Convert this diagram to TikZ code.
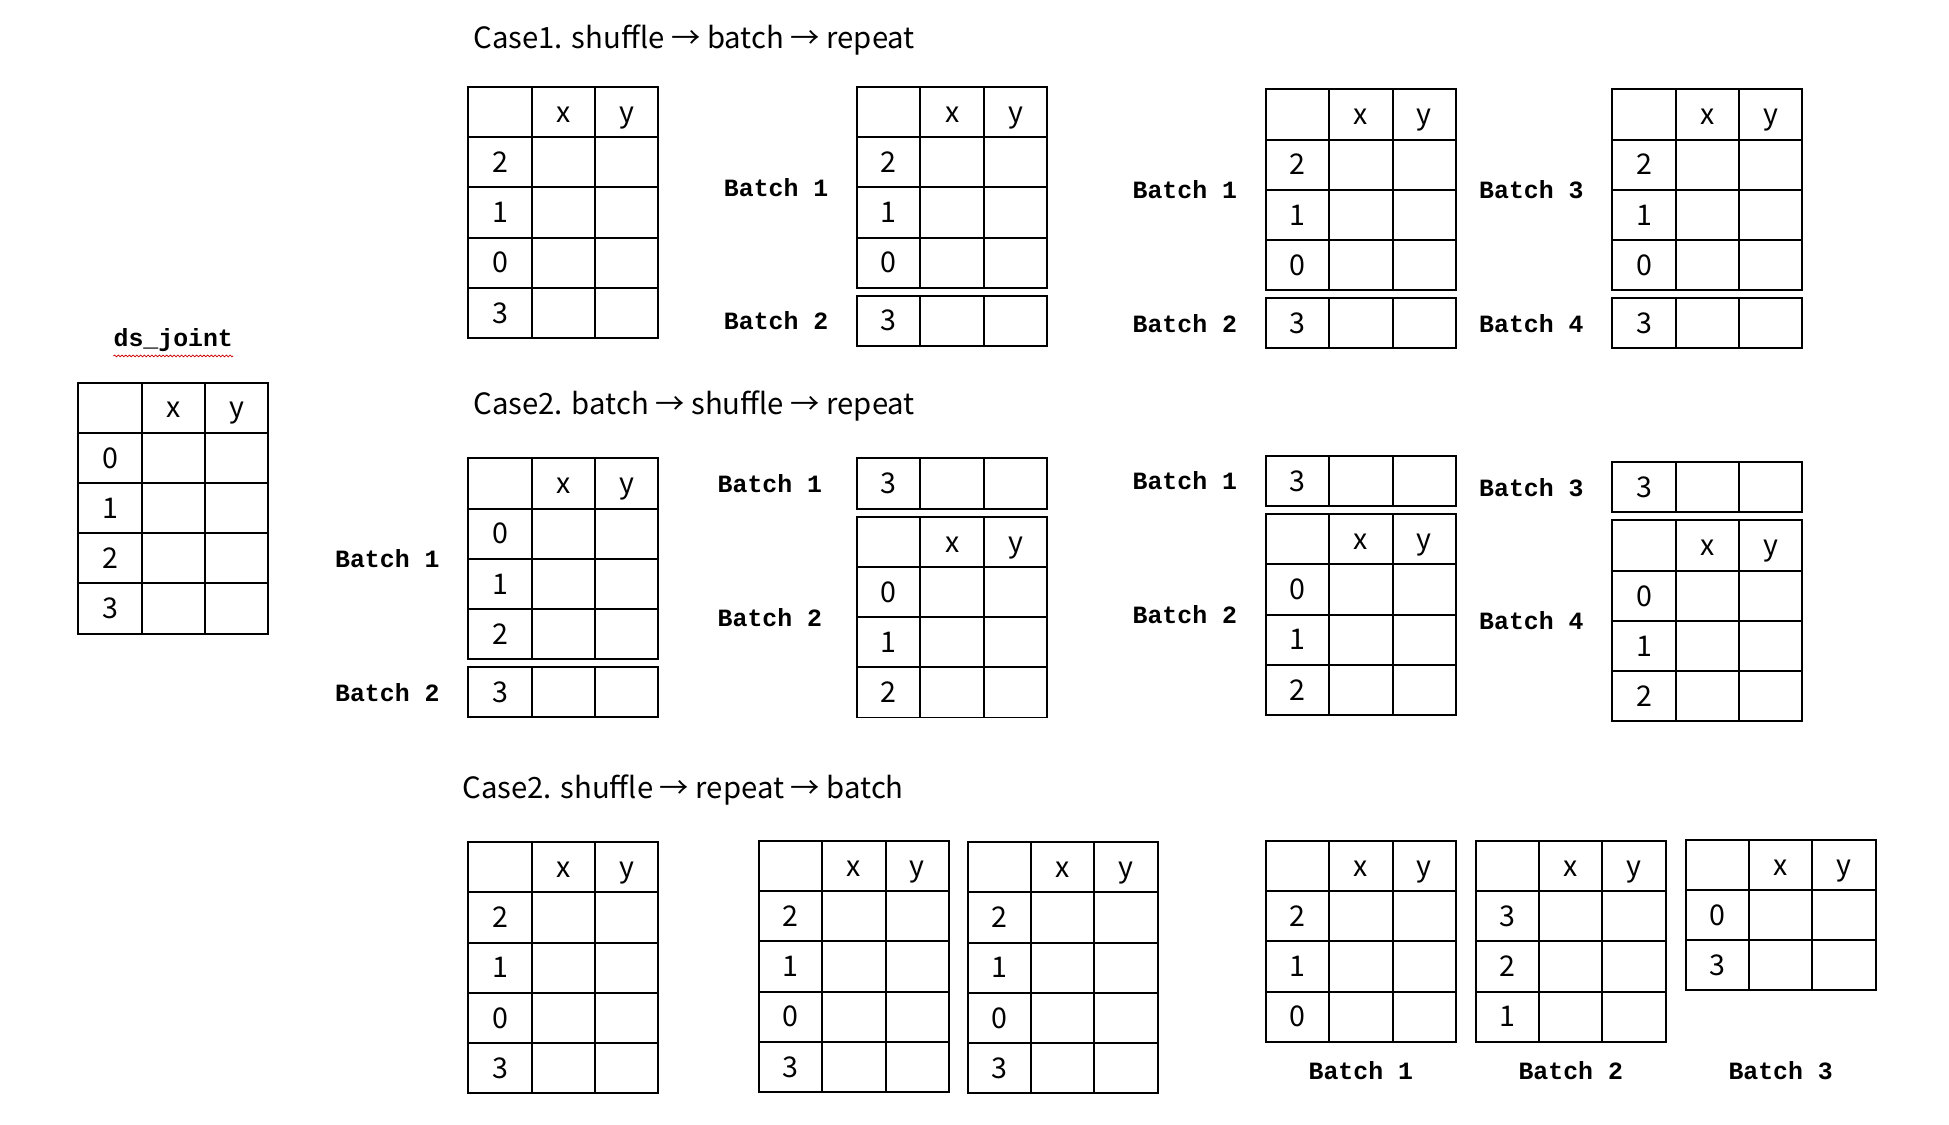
\documentclass[tikz,border=0pt]{standalone}
\usepackage{fontspec}
\setmainfont{Noto Sans CJK KR}
\setmonofont{Liberation Mono}
\usepackage{tikz}
\usetikzlibrary{positioning, calc, decorations.pathmorphing}

\tikzset{
  celda/.style={draw, line width=1.6pt, minimum width=51pt, minimum height=40.4pt,
    inner sep=0pt, outer sep=0pt, anchor=north west, text height=16.5pt, text depth=0pt,
    font=\fontsize{23}{26}\selectfont},
  lote/.style={font=\ttfamily\bfseries\fontsize{20}{22}\selectfont, inner sep=0pt},
  titulo/.style={font=\fontsize{23.6}{26}\selectfont, inner sep=0pt, anchor=west},
}

% tabla con cabecera (vacio, x, y) y sus filas
\newcommand{\tabla}[3]{%
  \node[celda] (#1-0-1) at #2 {};
  \node[celda, right=0pt of #1-0-1] (#1-0-2) {x};
  \node[celda, right=0pt of #1-0-2] (#1-0-3) {y};
  \foreach \v [count=\i, evaluate=\i as \j using int(\i-1)] in {#3} {
    \node[celda, below=0pt of #1-\j-1] (#1-\i-1) {\v};
    \node[celda, right=0pt of #1-\i-1] (#1-\i-2) {};
    \node[celda, right=0pt of #1-\i-2] (#1-\i-3) {};
  }
}
% una sola fila suelta
\newcommand{\bloque}[3]{%
  \node[celda] (#1-1-1) at #2 {#3};
  \node[celda, right=0pt of #1-1-1] (#1-1-2) {};
  \node[celda, right=0pt of #1-1-2] (#1-1-3) {};
}

\begin{document}
\begin{tikzpicture}[x=1pt, y=-1pt]
    \useasboundingbox (0,0) rectangle (1569,905);

    % ds_joint
    \tabla{ds}{(63,308)}{0,1,2,3}
    \node[lote] (dsn) at ($(ds-0-2.north)+(0,-34)$) {ds\_joint};
    \draw[red!80!black, line width=0.6pt, decorate,
      decoration={snake, amplitude=0.7pt, segment length=3pt}]
      ($(dsn.south west)+(0,3)$) -- ($(dsn.south east)+(0,3)$);

    % Case1
    \node[titulo] (t1) at (381,32) {Case1. shuffle → batch → repeat};
    \tabla{c1a}{(377,70)}{2,1,0,3}
    \tabla{c1b}{(690,70)}{2,1,0}
    \bloque{c1bb}{(690,238)}{3}
    \tabla{c1c}{(1019,72)}{2,1,0}
    \bloque{c1cc}{(1019,240)}{3}
    \tabla{c1d}{(1298,72)}{2,1,0}
    \bloque{c1dd}{(1298,240)}{3}
    \node[lote, anchor=east] (c1b-l1) at ($(c1b-0-1.north west)!0.5!(c1b-3-1.south west)+(-23,0)$) {Batch 1};
    \node[lote, anchor=east] (c1b-l2) at ($(c1bb-1-1.west)+(-23,0)$) {Batch 2};
    \node[lote, anchor=east] (c1c-l1) at ($(c1c-0-1.north west)!0.5!(c1c-3-1.south west)+(-23,0)$) {Batch 1};
    \node[lote, anchor=east] (c1c-l2) at ($(c1cc-1-1.west)+(-23,0)$) {Batch 2};
    \node[lote, anchor=east] (c1d-l1) at ($(c1d-0-1.north west)!0.5!(c1d-3-1.south west)+(-23,0)$) {Batch 3};
    \node[lote, anchor=east] (c1d-l2) at ($(c1dd-1-1.west)+(-23,0)$) {Batch 4};

    % Case2
    \node[titulo] (t2) at (381,327) {Case2. batch → shuffle → repeat};
    \tabla{c2a}{(377,369)}{0,1,2}
    \bloque{c2aa}{(377,537)}{3}
    \bloque{c2bb}{(690,369)}{3}
    \tabla{c2b}{(690,416)}{0,1,2}
    \bloque{c2cc}{(1019,367)}{3}
    \tabla{c2c}{(1019,414)}{0,1,2}
    \bloque{c2dd}{(1298,372)}{3}
    \tabla{c2d}{(1298,419)}{0,1,2}
    \node[lote, anchor=east] (c2a-l1) at ($(c2a-0-1.north west)!0.5!(c2a-3-1.south west)+(-23,0)$) {Batch 1};
    \node[lote, anchor=east] (c2a-l2) at ($(c2aa-1-1.west)+(-23,0)$) {Batch 2};
    \node[lote, anchor=east] (c2b-l1) at ($(c2bb-1-1.west)+(-28,0)$) {Batch 1};
    \node[lote, anchor=east] (c2b-l2) at ($(c2b-0-1.north west)!0.5!(c2b-3-1.south west)+(-28,0)$) {Batch 2};
    \node[lote, anchor=east] (c2c-l1) at ($(c2cc-1-1.west)+(-23,0)$) {Batch 1};
    \node[lote, anchor=east] (c2c-l2) at ($(c2c-0-1.north west)!0.5!(c2c-3-1.south west)+(-23,0)$) {Batch 2};
    \node[lote, anchor=east] (c2d-l1) at ($(c2dd-1-1.west)+(-23,0)$) {Batch 3};
    \node[lote, anchor=east] (c2d-l2) at ($(c2d-0-1.north west)!0.5!(c2d-3-1.south west)+(-23,0)$) {Batch 4};

    % Case2 (shuffle, repeat, batch)
    \node[titulo] (t3) at (372,636) {Case2. shuffle → repeat → batch};
    \tabla{c3a}{(377,678)}{2,1,0,3}
    \tabla{c3b}{(611,677)}{2,1,0,3}
    \tabla{c3c}{(779,678)}{2,1,0,3}
    \tabla{c3d}{(1019,677)}{2,1,0}
    \tabla{c3e}{(1188,677)}{3,2,1}
    \tabla{c3f}{(1357,676)}{0,3}
    \node[lote] (c3d-l) at ($(c3d-3-2.south)+(0,23)$) {Batch 1};
    \node[lote] (c3e-l) at (c3e-0-2 |- c3d-l) {Batch 2};
    \node[lote] (c3f-l) at (c3f-0-2 |- c3d-l) {Batch 3};
\end{tikzpicture}
\end{document}
